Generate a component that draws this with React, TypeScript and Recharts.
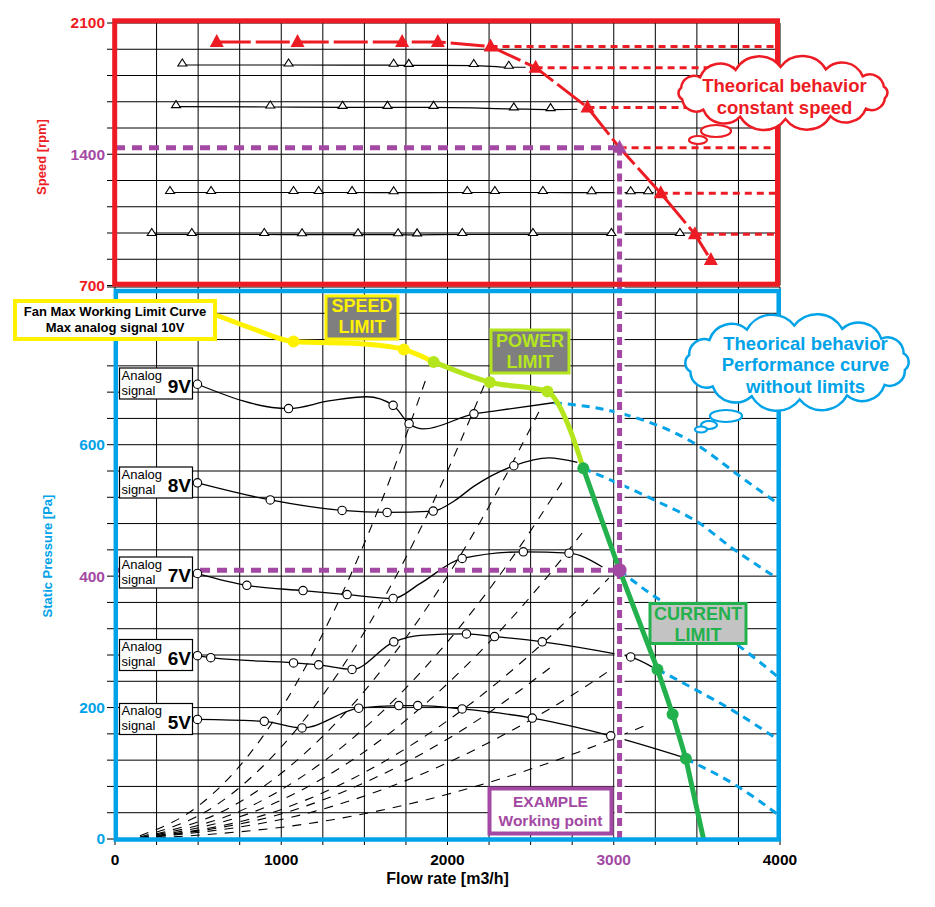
import React from "react";
import {
  CartesianGrid,
  ComposedChart,
  Line,
  ReferenceDot,
  ReferenceLine,
  XAxis,
  YAxis,
} from "recharts";

// axis ticks
const FLOW_TICKS = [0, 250, 500, 750, 1000, 1250, 1500, 1750, 2000, 2250, 2500, 2750, 3000, 3250, 3500, 3750, 4000];
const FLOW_LABELS = [0, 1000, 2000, 3000, 4000];
const SPEED_TICKS = [700, 840, 980, 1120, 1260, 1400, 1540, 1680, 1820, 1960, 2100];
const SPEED_LABELS = [700, 1400, 2100];
const PRESSURE_TICKS = [0, 40, 80, 120, 160, 200, 240, 280, 320, 360, 400, 440, 480, 520, 560, 600, 640, 680, 720, 760, 800, 840];
const PRESSURE_LABELS = [0, 200, 400, 600];

// example working point
const WORK_FLOW = 3035;
const WORK_SPEED = 1435;
const WORK_PRESSURE = 409;

// top panel: measured speed at each analog signal (m = measured marker)
const SPEED_A = [
  { q: 405, rpm: 1876, m: 1 }, { q: 1044, rpm: 1876, m: 1 }, { q: 1676, rpm: 1875, m: 1 },
  { q: 1767, rpm: 1874, m: 1 }, { q: 2158, rpm: 1873, m: 1 }, { q: 2369, rpm: 1864, m: 1 },
  { q: 2470, rpm: 1864 },
];
const SPEED_B = [
  { q: 367, rpm: 1654, m: 1 }, { q: 934, rpm: 1652, m: 1 }, { q: 1369, rpm: 1650, m: 1 },
  { q: 1639, rpm: 1650, m: 1 }, { q: 1916, rpm: 1650, m: 1 }, { q: 2399, rpm: 1642, m: 1 },
  { q: 2620, rpm: 1638, m: 1 }, { q: 2781, rpm: 1640 },
];
const SPEED_C = [
  { q: 331, rpm: 1196, m: 1 }, { q: 578, rpm: 1196, m: 1 }, { q: 1074, rpm: 1196, m: 1 },
  { q: 1225, rpm: 1196, m: 1 }, { q: 1426, rpm: 1196, m: 1 }, { q: 1676, rpm: 1195, m: 1 },
  { q: 2119, rpm: 1196, m: 1 }, { q: 2285, rpm: 1196, m: 1 }, { q: 2574, rpm: 1196, m: 1 },
  { q: 2867, rpm: 1195, m: 1 }, { q: 3102, rpm: 1195, m: 1 }, { q: 3207, rpm: 1195, m: 1 },
  { q: 3241, rpm: 1195 },
];
const SPEED_D = [
  { q: 221, rpm: 972, m: 1 }, { q: 462, rpm: 972, m: 1 }, { q: 898, rpm: 972, m: 1 },
  { q: 1125, rpm: 971, m: 1 }, { q: 1462, rpm: 971, m: 1 }, { q: 1703, rpm: 971, m: 1 },
  { q: 1817, rpm: 970, m: 1 }, { q: 2089, rpm: 972, m: 1 }, { q: 2514, rpm: 972, m: 1 },
  { q: 2986, rpm: 972, m: 1 }, { q: 3398, rpm: 972, m: 1 }, { q: 3422, rpm: 972 },
];
// theoretical max speed curve (w = working point)
const SPEED_MAX = [
  { q: 612, rpm: 1999 }, { q: 1098, rpm: 1999 }, { q: 1727, rpm: 1999 }, { q: 1942, rpm: 1999 },
  { q: 2259, rpm: 1975 }, { q: 2530, rpm: 1862 }, { q: 2842, rpm: 1650 },
  { q: WORK_FLOW, rpm: WORK_SPEED, w: 1 }, { q: 3283, rpm: 1192 }, { q: 3488, rpm: 974 },
  { q: 3584, rpm: 836 },
];

// bottom panel: static pressure per analog signal
const SIGNAL_9V = [
  { q: 496, pa: 692, m: 1 }, { q: 1044, pa: 655, m: 1 }, { q: 1295, pa: 667 }, { q: 1516, pa: 673 },
  { q: 1673, pa: 660, m: 1 }, { q: 1769, pa: 632, m: 1 }, { q: 1857, pa: 624 }, { q: 2159, pa: 647, m: 1 },
  { q: 2299, pa: 652 }, { q: 2640, pa: 664 },
];
const SIGNAL_8V = [
  { q: 496, pa: 542, m: 1 }, { q: 934, pa: 516, m: 1 }, { q: 1366, pa: 500, m: 1 }, { q: 1637, pa: 497, m: 1 },
  { q: 1914, pa: 499, m: 1 }, { q: 2038, pa: 514 }, { q: 2160, pa: 537 }, { q: 2399, pa: 568, m: 1 },
  { q: 2610, pa: 580 }, { q: 2781, pa: 573 },
];
const SIGNAL_7V = [
  { q: 496, pa: 404, m: 1 }, { q: 793, pa: 386, m: 1 }, { q: 1131, pa: 378, m: 1 }, { q: 1396, pa: 372, m: 1 },
  { q: 1673, pa: 366, m: 1 }, { q: 1837, pa: 389 }, { q: 2088, pa: 427, m: 1 }, { q: 2456, pa: 437, m: 1 },
  { q: 2731, pa: 435, m: 1 }, { q: 2932, pa: 414 },
];
const SIGNAL_6V = [
  { q: 496, pa: 279, m: 1 }, { q: 576, pa: 276, m: 1 }, { q: 1074, pa: 268, m: 1 }, { q: 1225, pa: 265, m: 1 },
  { q: 1426, pa: 258, m: 1 }, { q: 1677, pa: 300, m: 1 }, { q: 1837, pa: 310 }, { q: 2114, pa: 312, m: 1 },
  { q: 2283, pa: 308, m: 1 }, { q: 2570, pa: 300, m: 1 }, { q: 3002, pa: 282 }, { q: 3102, pa: 277, m: 1 },
  { q: 3230, pa: 262 },
];
const SIGNAL_5V = [
  { q: 496, pa: 182, m: 1 }, { q: 898, pa: 179, m: 1 }, { q: 1125, pa: 169, m: 1 }, { q: 1466, pa: 199, m: 1 },
  { q: 1707, pa: 203, m: 1 }, { q: 1821, pa: 203, m: 1 }, { q: 2088, pa: 198, m: 1 }, { q: 2510, pa: 184, m: 1 },
  { q: 2982, pa: 157, m: 1 }, { q: 3423, pa: 124 },
];

// performance curves without limits
const FREE_9V = [{ q: 2640, pa: 664 }, { q: 3038, pa: 648 }, { q: 3499, pa: 600 }, { q: 3759, pa: 552 }, { q: 4000, pa: 508 }];
const FREE_8V = [{ q: 2817, pa: 564 }, { q: 3259, pa: 514 }, { q: 3519, pa: 480 }, { q: 3699, pa: 445 }, { q: 3880, pa: 414 }, { q: 4000, pa: 394 }];
const FREE_7V = [{ q: WORK_FLOW, pa: WORK_PRESSURE }, { q: 3283, pa: 363 }, { q: 3519, pa: 333 }, { q: 3719, pa: 300 }, { q: 4000, pa: 244 }];
const FREE_6V = [{ q: 3263, pa: 258 }, { q: 3479, pa: 229 }, { q: 3720, pa: 195 }, { q: 4000, pa: 149 }];
const FREE_5V = [{ q: 3434, pa: 122 }, { q: 3499, pa: 114 }, { q: 3720, pa: 84 }, { q: 4000, pa: 35 }];

// fan max working limit curve (d = marked point)
const LIMIT_SPEED = [
  { q: 612, pa: 797 }, { q: 835, pa: 776 }, { q: 1074, pa: 757, d: 1 }, { q: 1518, pa: 753 },
  { q: 1737, pa: 745, d: 1 }, { q: 1917, pa: 726 },
];
const LIMIT_POWER = [
  { q: 1917, pa: 726, d: 1 }, { q: 2255, pa: 695, d: 1 }, { q: 2601, pa: 681, d: 1 }, { q: 2661, pa: 664 },
  { q: 2721, pa: 633 }, { q: 2781, pa: 592 }, { q: 2817, pa: 564 },
];
const LIMIT_CURRENT = [
  { q: 2817, pa: 564, d: 1 }, { q: WORK_FLOW, pa: WORK_PRESSURE }, { q: 3263, pa: 258, d: 1 },
  { q: 3354, pa: 190, d: 1 }, { q: 3434, pa: 122, d: 1 }, { q: 3540, pa: 0 },
];

// system resistance curves (dashed)
const SYSTEM_CURVES = [
  [{ q: 150, pa: 5 }, { q: 500, pa: 50 }, { q: 900, pa: 160 }, { q: 1300, pa: 338 }, { q: 1600, pa: 512 }, { q: 1880, pa: 707 }],
  [{ q: 150, pa: 3 }, { q: 600, pa: 50 }, { q: 1000, pa: 140 }, { q: 1500, pa: 315 }, { q: 1900, pa: 505 }, { q: 2240, pa: 702 }],
  [{ q: 150, pa: 2 }, { q: 700, pa: 49 }, { q: 1200, pa: 144 }, { q: 1700, pa: 289 }, { q: 2200, pa: 484 }, { q: 2570, pa: 660 }],
  [{ q: 150, pa: 2 }, { q: 800, pa: 48 }, { q: 1400, pa: 147 }, { q: 2000, pa: 300 }, { q: 2400, pa: 432 }, { q: 2700, pa: 547 }],
  [{ q: 150, pa: 1 }, { q: 900, pa: 48 }, { q: 1600, pa: 151 }, { q: 2200, pa: 286 }, { q: 2600, pa: 399 }, { q: 2820, pa: 469 }],
  [{ q: 150, pa: 1 }, { q: 1000, pa: 45 }, { q: 1700, pa: 130 }, { q: 2300, pa: 238 }, { q: 2700, pa: 328 }, { q: 2970, pa: 397 }],
  [{ q: 150, pa: 1 }, { q: 1100, pa: 46 }, { q: 1700, pa: 110 }, { q: 2200, pa: 184 }, { q: 2650, pa: 267 }],
  [{ q: 150, pa: 1 }, { q: 1200, pa: 42 }, { q: 1800, pa: 94 }, { q: 2400, pa: 167 }, { q: 2800, pa: 227 }, { q: 2990, pa: 259 }],
  [{ q: 150, pa: 0 }, { q: 1300, pa: 29 }, { q: 2000, pa: 68 }, { q: 2600, pa: 115 }, { q: 3000, pa: 153 }, { q: 3210, pa: 175 }],
];

const FONT = "'Liberation Sans', Arial, Helvetica, sans-serif";
const RED = "#ed1c24";
const BLUE = "#00a2e8";
const PURPLE = "#a349a4";
const YELLOW = "#fff200";
const LIME = "#b5e61d";
const GREEN = "#22b14c";
const GREY = "#7f7f7f";

const SpeedTick = (props: any) => {
  const { x, y, payload } = props;
  const v = payload.value;
  if (!SPEED_LABELS.includes(v)) return <g />;
  return (
    <text x={x} y={y} dy="0.35em" textAnchor="end" fill={v === 1400 ? PURPLE : RED} fontSize={15.5} fontWeight="bold" fontFamily={FONT}>
      {v}
    </text>
  );
};

const PressureTick = (props: any) => {
  const { x, y, payload } = props;
  const v = payload.value;
  if (!PRESSURE_LABELS.includes(v)) return <g />;
  return (
    <text x={x} y={y} dy="0.35em" textAnchor="end" fill={v === 400 ? PURPLE : BLUE} fontSize={15.5} fontWeight="bold" fontFamily={FONT}>
      {v}
    </text>
  );
};

const FlowTick = (props: any) => {
  const { x, y, payload } = props;
  const v = payload.value;
  if (!FLOW_LABELS.includes(v)) return <g />;
  return (
    <text x={x} y={y} dy="0.71em" textAnchor="middle" fill={v === 3000 ? PURPLE : "#000"} fontSize={15.5} fontWeight="bold" fontFamily={FONT}>
      {v}
    </text>
  );
};

const NoTick = () => <g />;

const openTriangle = (props: any) => {
  const { cx, cy, payload, index } = props;
  if (!payload.m) return <g key={`t${index}`} />;
  return <path key={`t${index}`} d={`M${cx - 4.5},${cy + 1} L${cx + 4.5},${cy + 1} L${cx},${cy - 6} Z`} fill="#fff" stroke="#000" strokeWidth={1.1} />;
};

const redTriangle = (props: any) => {
  const { cx, cy, payload, index } = props;
  return <path key={`r${index}`} d={`M${cx - 7},${cy + 5} L${cx + 7},${cy + 5} L${cx},${cy - 8} Z`} fill={payload.w ? PURPLE : RED} />;
};

const openCircle = (props: any) => {
  const { cx, cy, payload, index } = props;
  if (!payload.m) return <g key={`c${index}`} />;
  return <circle key={`c${index}`} cx={cx} cy={cy} r={4.2} fill="#fff" stroke="#000" strokeWidth={1.1} />;
};

const limitDot = (color: string) => (props: any) => {
  const { cx, cy, payload, index } = props;
  if (!payload.d) return <g key={`l${index}`} />;
  return <circle key={`l${index}`} cx={cx} cy={cy} r={6} fill={color} />;
};

// scalloped cloud outline around an ellipse
function cloudPath(cx: number, cy: number, rx: number, ry: number, n: number) {
  const pts: number[][] = [];
  for (let i = 0; i < n; i++) {
    const a = (i / n) * Math.PI * 2 + 0.2;
    pts.push([cx + rx * Math.cos(a), cy + ry * Math.sin(a)]);
  }
  let d = `M${pts[0][0].toFixed(1)},${pts[0][1].toFixed(1)}`;
  for (let i = 1; i <= n; i++) {
    const p = pts[i % n];
    const o = pts[i - 1];
    const r = Math.hypot(p[0] - o[0], p[1] - o[1]) * 0.6;
    d += ` A${r.toFixed(1)},${r.toFixed(1)} 0 0 1 ${p[0].toFixed(1)},${p[1].toFixed(1)}`;
  }
  return d + " Z";
}

const SIGNAL_SERIES = [SIGNAL_9V, SIGNAL_8V, SIGNAL_7V, SIGNAL_6V, SIGNAL_5V];
const FREE_SERIES = [FREE_9V, FREE_8V, FREE_7V, FREE_6V, FREE_5V];
const SIGNAL_BOXES = [
  { label: "9V", top: 368 },
  { label: "8V", top: 467 },
  { label: "7V", top: 557 },
  { label: "6V", top: 639.5 },
  { label: "5V", top: 703.5 },
];

function LabelBox({ x, y, w, h, fill, stroke, sw, color, lines, size, dy }: any) {
  return (
    <g>
      <rect x={x} y={y} width={w} height={h} fill={fill} stroke={stroke} strokeWidth={sw} />
      {lines.map((t: string, i: number) => (
        <text key={t} x={x + w / 2} y={y + dy[i]} textAnchor="middle" fill={color} fontSize={size} fontWeight="bold" fontFamily={FONT}>
          {t}
        </text>
      ))}
    </g>
  );
}

export default function App() {
  return (
    <div style={{ position: "absolute", left: 0, top: 0, width: 935, height: 907, background: "#fff", fontFamily: FONT }}>
      {/* speed panel */}
      <div style={{ position: "absolute", left: 0, top: 0 }}>
        <ComposedChart width={935} height={300} margin={{ top: 23, right: 155, bottom: 12.5, left: 55 }}>
          <CartesianGrid stroke="#000" strokeWidth={1} />
          <XAxis type="number" dataKey="q" domain={[0, 4000]} ticks={FLOW_TICKS} interval={0} height={2} tick={<NoTick />} tickLine={false} axisLine={false} allowDataOverflow />
          <YAxis type="number" domain={[700, 2100]} ticks={SPEED_TICKS} interval={0} width={60} tickSize={8} tick={<SpeedTick />} axisLine={false} tickLine={{ stroke: "#000" }} allowDataOverflow />
          {[SPEED_A, SPEED_B, SPEED_C, SPEED_D].map((s, i) => (
            <Line key={`s${i}`} data={s} dataKey="rpm" type="monotone" stroke="#000" strokeWidth={1.2} dot={openTriangle} isAnimationActive={false} />
          ))}
          {SPEED_MAX.slice(4, 10).map((p) => (
            <ReferenceLine key={`h${p.q}`} segment={[{ x: p.q, y: p.rpm }, { x: 4000, y: p.rpm }]} stroke={RED} strokeWidth={3} strokeDasharray="7 5" />
          ))}
          <ReferenceLine segment={[{ x: WORK_FLOW, y: 700 }, { x: WORK_FLOW, y: WORK_SPEED }]} stroke="#fff" strokeWidth={10} />
          <ReferenceLine segment={[{ x: WORK_FLOW, y: 700 }, { x: WORK_FLOW, y: WORK_SPEED }]} stroke={PURPLE} strokeWidth={5} strokeDasharray="8 5" />
          <ReferenceLine segment={[{ x: 0, y: WORK_SPEED }, { x: WORK_FLOW, y: WORK_SPEED }]} stroke={PURPLE} strokeWidth={5} strokeDasharray="10 7" />
          <Line data={SPEED_MAX} dataKey="rpm" type="linear" stroke={RED} strokeWidth={3} strokeDasharray="34 5" dot={redTriangle} isAnimationActive={false} />
        </ComposedChart>
      </div>

      {/* pressure panel */}
      <div style={{ position: "absolute", left: 0, top: 260 }}>
        <ComposedChart width={935} height={640} margin={{ top: 27, right: 155, bottom: 31, left: 55 }}>
          <CartesianGrid stroke="#000" strokeWidth={1} />
          <XAxis type="number" dataKey="q" domain={[0, 4000]} ticks={FLOW_TICKS} interval={0} height={30} tickSize={6} tickMargin={9} tick={<FlowTick />} axisLine={false} tickLine={{ stroke: "#000" }} allowDataOverflow />
          <YAxis type="number" domain={[0, 840]} ticks={PRESSURE_TICKS} interval={0} width={60} tickSize={8} tick={<PressureTick />} axisLine={false} tickLine={{ stroke: "#000" }} allowDataOverflow />
          {SYSTEM_CURVES.map((s, i) => (
            <Line key={`sys${i}`} data={s} dataKey="pa" type="monotone" stroke="#000" strokeWidth={1.1} strokeDasharray="9 8" dot={false} isAnimationActive={false} />
          ))}
          {FREE_SERIES.map((s, i) => (
            <Line key={`free${i}`} data={s} dataKey="pa" type="monotone" stroke={BLUE} strokeWidth={3} strokeDasharray="8 6" dot={false} isAnimationActive={false} />
          ))}
          {SIGNAL_SERIES.map((s, i) => (
            <Line key={`sig${i}`} data={s} dataKey="pa" type="monotone" stroke="#000" strokeWidth={1.3} dot={openCircle} isAnimationActive={false} />
          ))}
          <ReferenceLine segment={[{ x: WORK_FLOW, y: 0 }, { x: WORK_FLOW, y: 840 }]} stroke="#fff" strokeWidth={10} />
          <ReferenceLine segment={[{ x: WORK_FLOW, y: 0 }, { x: WORK_FLOW, y: 840 }]} stroke={PURPLE} strokeWidth={5} strokeDasharray="8 5" />
          <ReferenceLine segment={[{ x: 0, y: WORK_PRESSURE }, { x: WORK_FLOW, y: WORK_PRESSURE }]} stroke={PURPLE} strokeWidth={5} strokeDasharray="10 7" />
          <Line data={LIMIT_SPEED} dataKey="pa" type="monotone" stroke={YELLOW} strokeWidth={5} dot={limitDot(YELLOW)} isAnimationActive={false} />
          <Line data={LIMIT_POWER} dataKey="pa" type="monotone" stroke={LIME} strokeWidth={5} dot={limitDot(LIME)} isAnimationActive={false} />
          <Line data={LIMIT_CURRENT} dataKey="pa" type="linear" stroke={GREEN} strokeWidth={5} dot={limitDot(GREEN)} isAnimationActive={false} />
          <ReferenceDot x={WORK_FLOW} y={WORK_PRESSURE} r={7} fill={PURPLE} stroke="none" />
        </ComposedChart>
      </div>

      {/* frames, titles and notes */}
      <svg width={935} height={907} style={{ position: "absolute", left: 0, top: 0, pointerEvents: "none" }} fontFamily={FONT}>
        <rect x={114.7} y={20.8} width={662.8} height={263.4} fill="none" stroke={RED} strokeWidth={5} />
        <rect x={115.8} y={291} width={662.9} height={548.5} fill="none" stroke={BLUE} strokeWidth={4.5} />

        <text transform="translate(46,157) rotate(-90)" textAnchor="middle" fill={RED} fontSize={13} fontWeight="bold">Speed [rpm]</text>
        <text transform="translate(52,556) rotate(-90)" textAnchor="middle" fill={BLUE} fontSize={13} fontWeight="bold">Static Pressure [Pa]</text>
        <text x={447.5} y={884} textAnchor="middle" fill="#000" fontSize={16} fontWeight="bold">Flow rate [m3/h]</text>

        <LabelBox x={15} y={301} w={200} h={38} fill="#fff" stroke={YELLOW} sw={4} color="#000" size={13} dy={[15, 31]} lines={["Fan Max Working Limit Curve", "Max analog signal 10V"]} />
        <LabelBox x={326} y={296} w={72} h={43} fill={GREY} stroke={YELLOW} sw={3} color={YELLOW} size={18} dy={[16, 37]} lines={["SPEED", "LIMIT"]} />
        <LabelBox x={491} y={330} w={78} h={43} fill={GREY} stroke={LIME} sw={3} color={LIME} size={18} dy={[17, 38]} lines={["POWER", "LIMIT"]} />
        <LabelBox x={650} y={603.5} w={96} h={40} fill="#c3c3c3" stroke={GREEN} sw={3} color={GREEN} size={18} dy={[16, 37.5]} lines={["CURRENT", "LIMIT"]} />
        <LabelBox x={489.5} y={788.5} w={122} h={45} fill="#fff" stroke={PURPLE} sw={4} color={PURPLE} size={15.5} dy={[18.5, 37.5]} lines={["EXAMPLE", "Working point"]} />

        {SIGNAL_BOXES.map((b) => (
          <g key={b.label}>
            <rect x={119.5} y={b.top} width={73} height={31} fill="#fff" stroke="#000" strokeWidth={1.2} />
            <text x={121.5} y={b.top + 11.5} fontSize={13} fill="#000">Analog</text>
            <text x={121.5} y={b.top + 26.5} fontSize={13} fill="#000">signal</text>
            <text x={191} y={b.top + 25} textAnchor="end" fontSize={19} fontWeight="bold" fill="#000">{b.label}</text>
          </g>
        ))}

        <path d={cloudPath(783, 93, 104, 26, 14)} fill="#fff" stroke={RED} strokeWidth={2.5} />
        <ellipse cx={716} cy={131} rx={15} ry={6} fill="#fff" stroke={RED} strokeWidth={2.2} />
        <ellipse cx={698} cy={140} rx={9} ry={4} fill="#fff" stroke={RED} strokeWidth={2.2} />
        <text x={784.5} y={91.5} textAnchor="middle" fill={RED} fontSize={18.5} fontWeight="bold">Theorical behavior</text>
        <text x={784.5} y={113.5} textAnchor="middle" fill={RED} fontSize={18.5} fontWeight="bold">constant speed</text>

        <path d={cloudPath(797, 362.5, 110, 37, 14)} fill="#fff" stroke={BLUE} strokeWidth={2.5} />
        <ellipse cx={726} cy={416} rx={16} ry={6} fill="#fff" stroke={BLUE} strokeWidth={2.2} />
        <ellipse cx={709} cy={425} rx={8} ry={4} fill="#fff" stroke={BLUE} strokeWidth={2.2} />
        <ellipse cx={701} cy={429.5} rx={6} ry={3} fill="#fff" stroke={BLUE} strokeWidth={2.2} />
        <text x={805.5} y={349.5} textAnchor="middle" fill={BLUE} fontSize={18.5} fontWeight="bold">Theorical behavior</text>
        <text x={805.5} y={371} textAnchor="middle" fill={BLUE} fontSize={18.5} fontWeight="bold">Performance curve</text>
        <text x={805.5} y={392.5} textAnchor="middle" fill={BLUE} fontSize={18.5} fontWeight="bold">without limits</text>
      </svg>
    </div>
  );
}
